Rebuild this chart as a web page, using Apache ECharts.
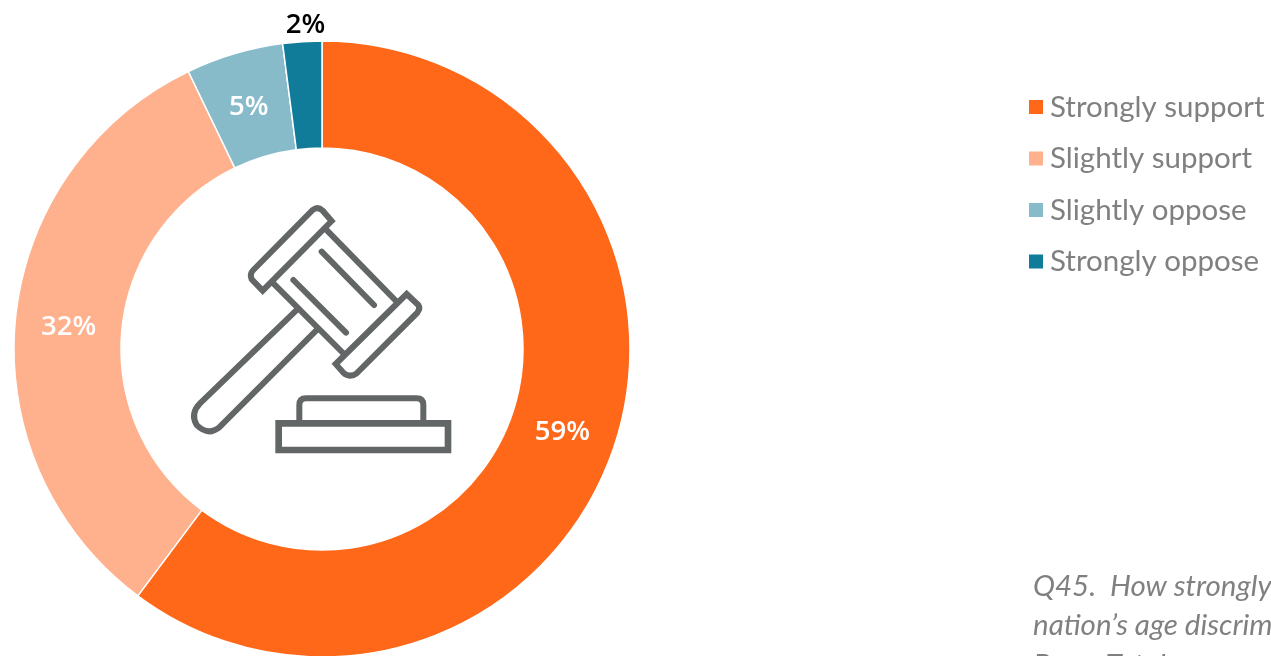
<!DOCTYPE html>
<html><head><meta charset="utf-8">
<style>html,body{margin:0;padding:0;background:#fff;overflow:hidden}#c{width:1271px;height:656px}</style>
<script src="https://cdn.jsdelivr.net/npm/echarts@6/dist/echarts.min.js"></script>
</head><body><div id="c"></div>
<script>
const categories = ['Strongly support','Slightly support','Slightly oppose','Strongly oppose'];
const values = [59,32,5,2];
const colors = ['#FF6719','#FFB08C','#87BBCA','#107C9A'];
const noteLines = ['Q45.  How strongly do you support','nation\u2019s age discrimination law?','Base: Total'];
const labelColors = ['#fff','#fff','#fff','#000'];
const labelOffsets = [[-4,2],[3,3],[0,5],[0,-67]];

const chart = echarts.init(document.getElementById('c'),null,{renderer:'canvas'});
const INK='#636666';
const iconPaths=[
 'M485 93 L278 302 L245 268 Q238 252 250 240 L428 60 Q443 48 458 62 Z',
 'M710 312 L745 345 Q752 355 742 368 L560 550 Q540 565 520 548 L497 522 Z',
 'M462 112 L684 339','M305 275 L525 495',
 'M385 355 L90 640 Q60 670 80 705 Q115 740 150 710 L445 415',
 'M388 695 L388 645 Q388 625 408 625 L740 625 Q760 625 760 645 L760 695',
 'M326 700 L834 700 L834 780 L326 780 Z',
 'M455 185 L612 345','M370 270 L528 428'
];
iconPaths.forEach((d,i)=>echarts.graphic.registerShape('gavel'+i,echarts.graphic.extendPath(d)));
chart.setOption({
 animation:false,
 backgroundColor:'#fff',
 color:colors,
 legend:{
  orient:'vertical',left:1024,top:84,itemWidth:14,itemHeight:14,itemGap:15.5,icon:'rect',
  selectedMode:false,
  itemStyle:{borderWidth:0},
  textStyle:{color:'#808080',fontFamily:'Lato',fontWeight:400,fontSize:29.5,lineHeight:36,padding:[0,0,0,2]},
  data:categories
 },
 series:[{
  type:'pie',center:[322,349],radius:[201,308],startAngle:90,silent:true,
  itemStyle:{borderColor:'#fff',borderWidth:1.5},
  label:{position:'inside',formatter:'{c}%',fontFamily:'Open Sans',fontSize:27.5,fontWeight:600},
  labelLine:{show:false},
  data:categories.map((n,i)=>({name:n,value:values[i],
    label:{color:labelColors[i],offset:labelOffsets[i]}}))
 }],
 graphic:[
  {type:'group',x:170,y:190,scaleX:1/3,scaleY:1/3,silent:true,
   children:iconPaths.map((d,i)=>({type:'gavel'+i,
     style:{fill:null,stroke:INK,lineWidth:i===6?20:18,lineJoin:'miter',lineCap:i>=7?'round':'butt'}}))},
  ...noteLines.map((t,i)=>({type:'text',x:1033,y:571+i*39.5,silent:true,
    style:{text:t,fill:'#808080',font:'italic 400 29.5px Lato'}}))
 ]
});
</script></body></html>
